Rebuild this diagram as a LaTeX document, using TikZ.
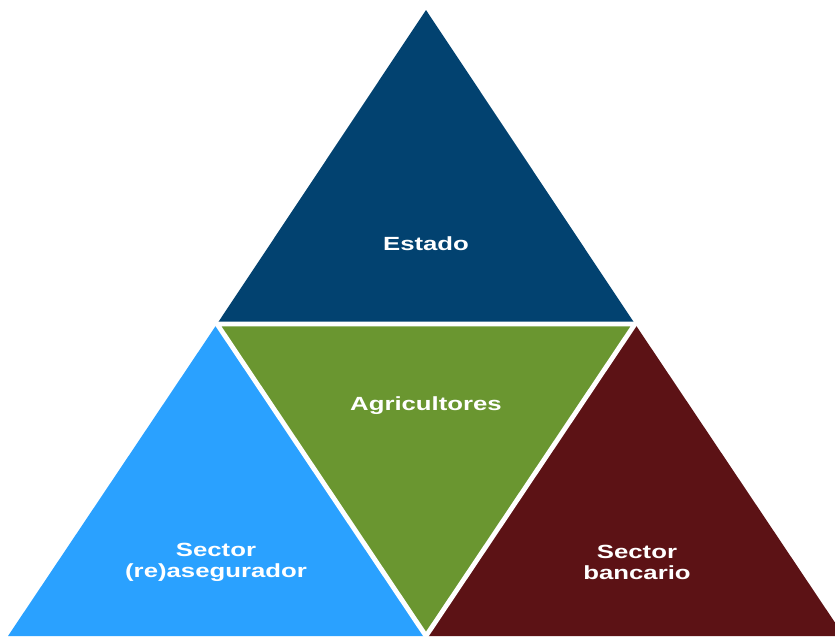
\documentclass[tikz,border=0pt]{standalone}
\usepackage{fontspec}
\newfontfamily\partfont[FakeStretch=1.35]{Liberation Sans}
\definecolor{estado}{RGB}{2,66,112}
\definecolor{agri}{RGB}{106,150,48}
\definecolor{seguro}{RGB}{42,161,255}
\definecolor{banco}{RGB}{92,18,21}

\begin{document}
\begin{tikzpicture}[
 x=0.75pt, y=-0.75pt,
 gap/.style = {draw=white, line width=3.6pt},
 partname/.style = {
    text=white,
    font=\partfont\fontsize{14.3}{15.8}\selectfont\bfseries,
    align=center}
  ]
\useasboundingbox (0,0) rectangle (835,636);
\clip (0,0) rectangle (835,636);
% corners of the big triangle and its midpoints
\coordinate(top) at (426,10);
\coordinate(botl) at (8,636);
\coordinate(botr) at (844,636);
\coordinate(midl) at (217,324);
\coordinate(midr) at (635,324);
\coordinate(midb) at (426,636);

\fill[estado] (top) -- (midr) -- (midl) -- cycle;
\fill[agri] (midl) -- (midr) -- (midb) -- cycle;
\fill[seguro] (midl) -- (midb) -- (botl) -- cycle;
\fill[banco] (midr) -- (botr) -- (midb) -- cycle;
\draw[gap] (midl) -- (midr) -- (midb) -- cycle;

\node(estadoname)[partname] at (426,244) {Estado};
\node(agriname)[partname] at (426,406) {Agricultores};
\node(seguroname)[partname] at (216,562) {Sector\\(re)asegurador};
\node(bankname)[partname] at (637,562) {Sector\\bancario};

\end{tikzpicture}
\end{document}
